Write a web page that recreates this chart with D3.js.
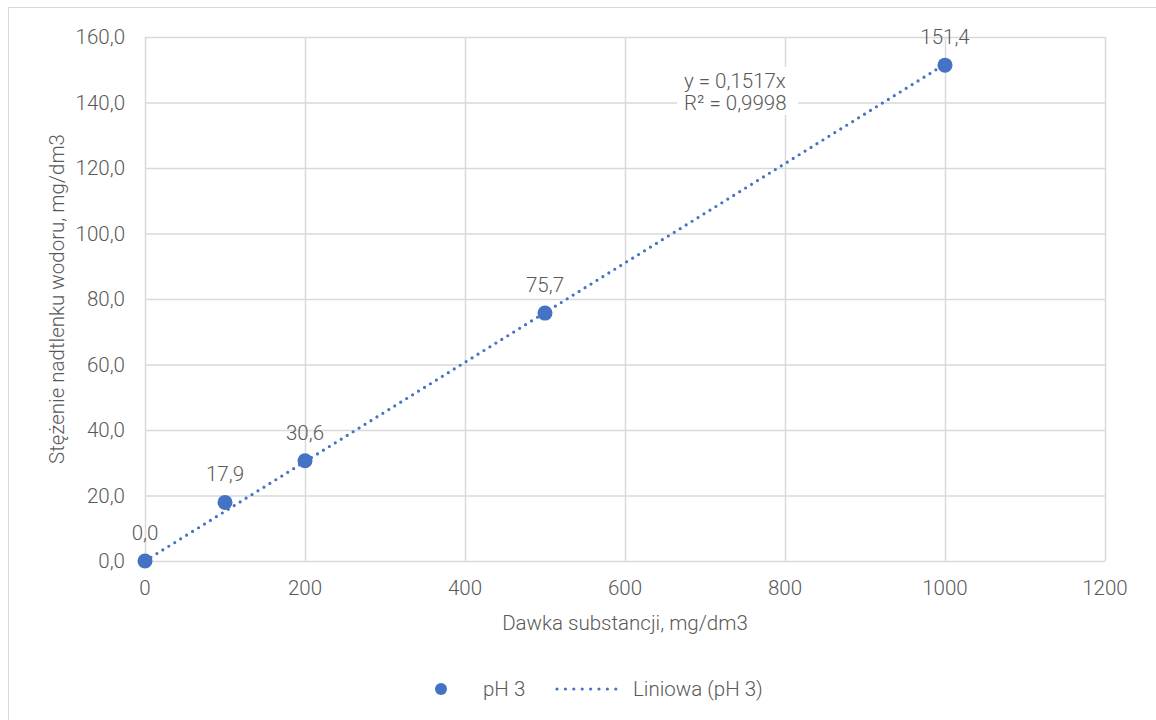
<!DOCTYPE html>
<html><head><meta charset="utf-8">
<script src="https://cdn.jsdelivr.net/npm/d3@7"></script>
<style>body{margin:0;background:#fff}svg{display:block}text{font-family:Roboto,"Noto Sans",sans-serif;font-weight:300;fill:#595959}</style>
</head><body><svg id="c" width="1156" height="720"></svg>
<script>
const doses = [0, 100, 200, 500, 1000];
const values = [0.0, 17.9, 30.6, 75.7, 151.4];
const labels = ["0,0", "17,9", "30,6", "75,7", "151,4"];
const xTicks = [0, 200, 400, 600, 800, 1000, 1200];
const yTicks = [0, 20, 40, 60, 80, 100, 120, 140, 160];
const slope = 0.1517;
const eqText = ["y = 0,1517x", "R² = 0,9998"];
const seriesName = "pH 3";
const trendName = "Liniowa (pH 3)";
const xTitle = "Dawka substancji, mg/dm3";
const yTitle = "Stężenie nadtlenku wodoru, mg/dm3";

const FS = 20.5;
const svg = d3.select("#c");
const blue = "#4472C4", grid = "#d9d9d9";
svg.append("rect").attr("x",8.5).attr("y",7.5).attr("width",1160).attr("height",730).attr("fill","none").attr("stroke","#d9d9d9");

const x = d3.scaleLinear().domain([0,1200]).range([145,1105]);
const y = d3.scaleLinear().domain([0,160]).range([561,37]);

const g = svg.append("g");
g.selectAll("line.h").data(yTicks).join("line").attr("x1",x(0)).attr("x2",x(1200)).attr("y1",d=>y(d)+0.5).attr("y2",d=>y(d)+0.5).attr("stroke",grid).attr("stroke-width",1.5);
g.selectAll("line.v").data(xTicks).join("line").attr("y1",y(0)).attr("y2",y(160)).attr("x1",d=>x(d)+0.5).attr("x2",d=>x(d)+0.5).attr("stroke",grid).attr("stroke-width",1.5);

const fmt = d => d.toFixed(1).replace(".",",");
g.selectAll("text.yt").data(yTicks).join("text").attr("x",125).attr("y",d=>y(d)).attr("dy","0.35em").attr("text-anchor","end").attr("font-size",FS).text(fmt);
g.selectAll("text.xt").data(xTicks).join("text").attr("x",d=>x(d)).attr("y",595).attr("text-anchor","middle").attr("font-size",FS).text(d=>d);

svg.append("text").attr("x",x(600)).attr("y",630).attr("text-anchor","middle").attr("font-size",FS).text(xTitle);
svg.append("text").attr("transform",`translate(64,${(y(0)+y(160))/2}) rotate(-90)`).attr("text-anchor","middle").attr("font-size",FS).text(yTitle);

// trendline
svg.append("line").attr("x1",x(0)).attr("y1",y(0)).attr("x2",x(1000)).attr("y2",y(slope*1000))
  .attr("stroke",blue).attr("stroke-width",3.2).attr("stroke-linecap","round").attr("stroke-dasharray","0,7");

// points
svg.selectAll("circle.p").data(doses).join("circle").attr("cx",d=>x(d)).attr("cy",(d,i)=>y(values[i])).attr("r",7.5).attr("fill",blue);
svg.selectAll("text.lab").data(doses).join("text").attr("x",d=>x(d)).attr("y",(d,i)=>y(values[i])-21).attr("text-anchor","middle").attr("font-size",FS).text((d,i)=>labels[i]);

// equation box
svg.append("rect").attr("x",677).attr("y",67).attr("width",121).attr("height",48).attr("fill","#fff");
svg.append("text").attr("x",684).attr("y",88).attr("font-size",FS).text(eqText[0]);
svg.append("text").attr("x",684).attr("y",110).attr("font-size",FS).text(eqText[1]);

// legend
svg.append("circle").attr("cx",441).attr("cy",689).attr("r",6).attr("fill",blue);
svg.append("text").attr("x",483).attr("y",696).attr("font-size",FS).text(seriesName);
svg.append("line").attr("x1",557).attr("x2",624).attr("y1",689).attr("y2",689).attr("stroke",blue).attr("stroke-width",3.2).attr("stroke-linecap","round").attr("stroke-dasharray","0,8.4");
svg.append("text").attr("x",633).attr("y",696).attr("font-size",FS).text(trendName);
</script></body></html>
